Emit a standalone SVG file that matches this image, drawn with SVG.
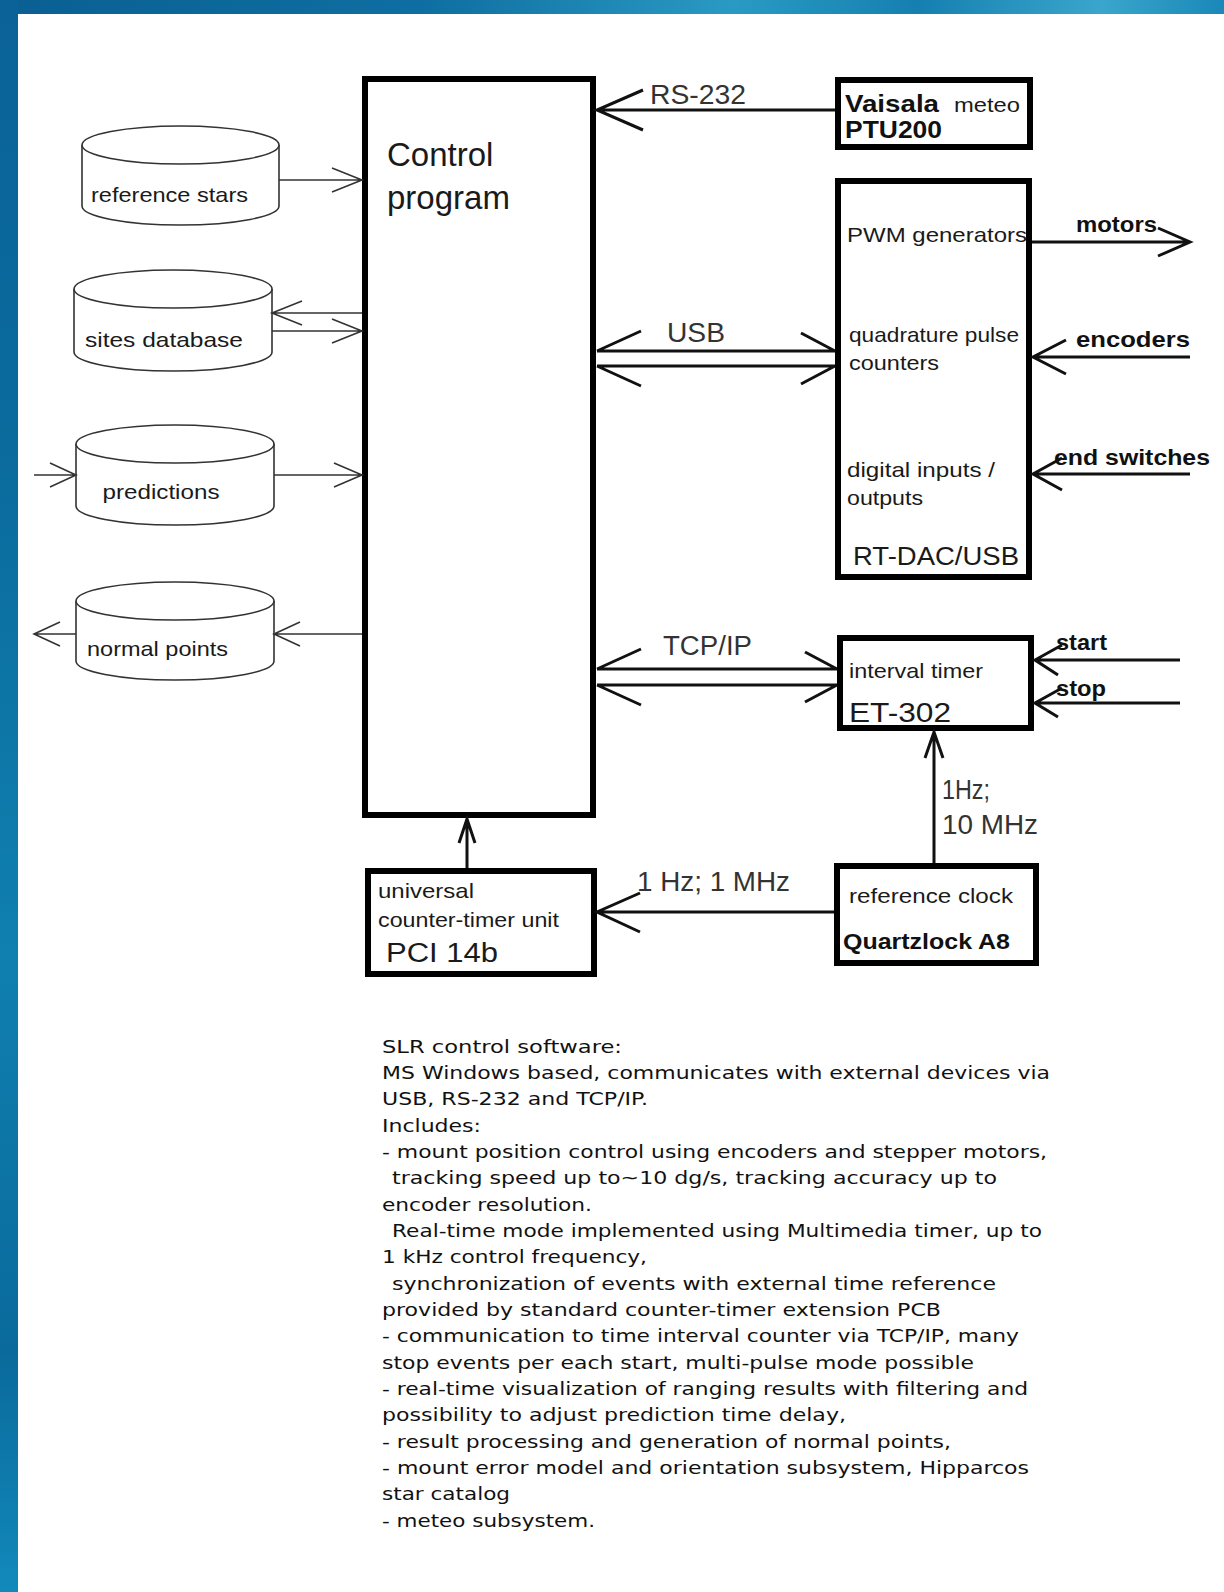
<svg xmlns="http://www.w3.org/2000/svg" width="1224" height="1592" viewBox="0 0 1224 1592">
<defs>
<linearGradient id="topg" x1="0" y1="0" x2="1" y2="0">
<stop offset="0" stop-color="#0a5f93"/>
<stop offset="0.35" stop-color="#0f6fa2"/>
<stop offset="0.6" stop-color="#2a9ac4"/>
<stop offset="0.75" stop-color="#1580b0"/>
<stop offset="0.9" stop-color="#3aa6cc"/>
<stop offset="1" stop-color="#1a88b8"/>
</linearGradient>
<linearGradient id="leftg" x1="0" y1="0" x2="0" y2="1">
<stop offset="0" stop-color="#0a6298"/>
<stop offset="0.3" stop-color="#0b6c9e"/>
<stop offset="0.6" stop-color="#0f80b0"/>
<stop offset="0.85" stop-color="#0a6a9c"/>
<stop offset="1" stop-color="#1289bb"/>
</linearGradient>
</defs>
<style>
.box{fill:#fff;stroke:#000;stroke-width:6}
.cyl{fill:#fff;stroke:#333;stroke-width:1.6}
.thin{fill:none;stroke:#333;stroke-width:1.6}
.thick{fill:none;stroke:#111;stroke-width:3}
.t{font-family:"Liberation Sans",Arial,sans-serif;fill:#1a1a1a}
.lbl{font-family:"Liberation Sans",Arial,sans-serif;fill:#333;font-size:27px}
.b{font-family:"Liberation Sans",Arial,sans-serif;font-weight:bold;fill:#111}
.d{font-family:"DejaVu Sans",sans-serif;font-size:18px;fill:#111}
</style>
<rect x="0" y="0" width="1224" height="1592" fill="#fff"/>
<rect x="0" y="0" width="1224" height="14" fill="url(#topg)"/>
<rect x="0" y="0" width="18" height="1592" fill="url(#leftg)"/>

<g id="control-program">
<rect class="box" x="365" y="79" width="228" height="736"/>
<text class="t" x="387" y="166" font-size="33">Control</text>
<text class="t" x="387" y="209" font-size="33">program</text>
</g>

<g id="reference-stars">
<path class="cyl" d="M82,145 L82,206 A98.5,19 0 0 0 279,206 L279,145"/>
<ellipse class="cyl" cx="180.5" cy="145" rx="98.5" ry="19"/>
<text class="t" x="91" y="202" font-size="21" textLength="157" lengthAdjust="spacingAndGlyphs">reference stars</text>
</g>

<g id="sites-database">
<path class="cyl" d="M74,289 L74,352 A99,19 0 0 0 272,352 L272,289"/>
<ellipse class="cyl" cx="173" cy="289" rx="99" ry="19"/>
<text class="t" x="85" y="347" font-size="21" textLength="158" lengthAdjust="spacingAndGlyphs">sites database</text>
</g>

<g id="predictions">
<path class="cyl" d="M76,444 L76,506 A99,19 0 0 0 274,506 L274,444"/>
<ellipse class="cyl" cx="175" cy="444" rx="99" ry="19"/>
<text class="t" x="102.5" y="499" font-size="21" textLength="117" lengthAdjust="spacingAndGlyphs">predictions</text>
</g>

<g id="normal-points">
<path class="cyl" d="M76,601 L76,661 A99,19 0 0 0 274,661 L274,601"/>
<ellipse class="cyl" cx="175" cy="601" rx="99" ry="19"/>
<text class="t" x="87" y="656" font-size="21" textLength="141" lengthAdjust="spacingAndGlyphs">normal points</text>
</g>

<g id="vaisala">
<rect class="box" x="838" y="80" width="192" height="67"/>
<text class="b" x="845" y="112" font-size="24" textLength="94" lengthAdjust="spacingAndGlyphs">Vaisala</text>
<text class="t" x="954" y="112" font-size="20" textLength="66" lengthAdjust="spacingAndGlyphs">meteo</text>
<text class="b" x="845" y="138" font-size="24" textLength="97" lengthAdjust="spacingAndGlyphs">PTU200</text>
</g>

<g id="rt-dac">
<rect class="box" x="838" y="181" width="191" height="396"/>
<text class="t" x="847" y="242" font-size="21" textLength="180" lengthAdjust="spacingAndGlyphs">PWM generators</text>
<text class="t" x="849" y="342" font-size="21" textLength="170" lengthAdjust="spacingAndGlyphs">quadrature pulse</text>
<text class="t" x="849" y="370" font-size="21" textLength="90" lengthAdjust="spacingAndGlyphs">counters</text>
<text class="t" x="847" y="477" font-size="21" textLength="148" lengthAdjust="spacingAndGlyphs">digital inputs /</text>
<text class="t" x="847" y="505" font-size="21" textLength="76" lengthAdjust="spacingAndGlyphs">outputs</text>
<text class="t" x="853" y="565" font-size="25" textLength="166" lengthAdjust="spacingAndGlyphs">RT-DAC/USB</text>
</g>

<g id="interval-timer">
<rect class="box" x="840" y="638" width="191" height="90"/>
<text class="t" x="849" y="678" font-size="21" textLength="134" lengthAdjust="spacingAndGlyphs">interval timer</text>
<text class="t" x="849" y="722" font-size="28" textLength="102" lengthAdjust="spacingAndGlyphs">ET-302</text>
</g>

<g id="reference-clock">
<rect class="box" x="837" y="866" width="199" height="97"/>
<text class="t" x="849" y="903" font-size="21" textLength="164" lengthAdjust="spacingAndGlyphs">reference clock</text>
<text class="b" x="843" y="949" font-size="22" textLength="167" lengthAdjust="spacingAndGlyphs">Quartzlock A8</text>
</g>

<g id="pci">
<rect class="box" x="368" y="871" width="226" height="103"/>
<text class="t" x="378" y="898" font-size="21" textLength="96" lengthAdjust="spacingAndGlyphs">universal</text>
<text class="t" x="378" y="927" font-size="21" textLength="181" lengthAdjust="spacingAndGlyphs">counter-timer unit</text>
<text class="t" x="386" y="962" font-size="27" textLength="112" lengthAdjust="spacingAndGlyphs">PCI 14b</text>
</g>

<g id="connectors">
<path class="thin" d="M279,180 H362 M332,168 L362,180 L332,192"/>
<path class="thin" d="M362,313 H272 M302,301 L272,313 L302,325"/>
<path class="thin" d="M272,331 H362 M332,319 L362,331 L332,343"/>
<path class="thin" d="M34,475 H76 M50,463 L76,475 L50,487"/>
<path class="thin" d="M274,475 H362 M334,463 L362,475 L334,487"/>
<path class="thin" d="M362,634 H274 M300,622 L274,634 L300,646"/>
<path class="thin" d="M76,634 H34 M60,622 L34,634 L60,646"/>
<path class="thick" d="M835,110 H597 M643,90 L597,110 L643,130"/>
<text class="lbl" x="650" y="104" textLength="96" lengthAdjust="spacingAndGlyphs">RS-232</text>
<path class="thick" d="M597,351 H835 M597,366 H835 M641,331 L597,351 M641,386 L597,366 M801,333 L835,351 M801,384 L835,366"/>
<text class="lbl" x="667" y="342" textLength="58" lengthAdjust="spacingAndGlyphs">USB</text>
<path class="thick" d="M1032,242 H1190 M1158,228 L1190,242 L1158,256"/>
<text class="b" x="1076" y="232" font-size="22" textLength="81" lengthAdjust="spacingAndGlyphs">motors</text>
<path class="thick" d="M1190,357 H1033 M1066,340 L1033,357 L1066,374"/>
<text class="b" x="1076" y="347" font-size="22" textLength="114" lengthAdjust="spacingAndGlyphs">encoders</text>
<path class="thick" d="M1190,474 H1033 M1062,458 L1033,474 L1062,490"/>
<text class="b" x="1054" y="465" font-size="22" textLength="156" lengthAdjust="spacingAndGlyphs">end switches</text>
<path class="thick" d="M597,669 H837 M597,685 H837 M641,649 L597,669 M641,705 L597,685 M805,652 L837,669 M805,702 L837,685"/>
<text class="lbl" x="663" y="655" textLength="89" lengthAdjust="spacingAndGlyphs">TCP/IP</text>
<path class="thick" d="M1180,660 H1035 M1062,645 L1035,660 L1058,675"/>
<text class="b" x="1056" y="650" font-size="22" textLength="51" lengthAdjust="spacingAndGlyphs">start</text>
<path class="thick" d="M1180,703 H1035 M1062,688 L1035,703 L1058,717"/>
<text class="b" x="1056" y="696" font-size="22" textLength="50" lengthAdjust="spacingAndGlyphs">stop</text>
<path class="thick" d="M934,863 V732 M925,758 L934,732 L943,758"/>
<text class="lbl" x="942" y="799" textLength="48" lengthAdjust="spacingAndGlyphs">1Hz;</text>
<text class="lbl" x="942" y="834" textLength="96" lengthAdjust="spacingAndGlyphs">10 MHz</text>
<path class="thick" d="M834,912 H597 M640,893 L597,912 L640,932"/>
<text class="lbl" x="637" y="891" textLength="153" lengthAdjust="spacingAndGlyphs">1 Hz; 1 MHz</text>
<path class="thick" d="M467,868 V819 M459,843 L467,819 L475,843"/>
</g>

<g id="description">
<text class="d" x="382" y="1053" textLength="240" lengthAdjust="spacingAndGlyphs">SLR control software:</text>
<text class="d" x="382" y="1079" textLength="668" lengthAdjust="spacingAndGlyphs">MS Windows based, communicates with external devices via</text>
<text class="d" x="382" y="1105" textLength="266" lengthAdjust="spacingAndGlyphs">USB, RS-232 and TCP/IP.</text>
<text class="d" x="382" y="1132" textLength="99" lengthAdjust="spacingAndGlyphs">Includes:</text>
<text class="d" x="382" y="1158" textLength="665" lengthAdjust="spacingAndGlyphs">- mount position control using encoders and stepper motors,</text>
<text class="d" x="392" y="1184" textLength="605" lengthAdjust="spacingAndGlyphs">tracking speed up to~10 dg/s, tracking accuracy up to</text>
<text class="d" x="382" y="1211" textLength="210" lengthAdjust="spacingAndGlyphs">encoder resolution.</text>
<text class="d" x="392" y="1237" textLength="650" lengthAdjust="spacingAndGlyphs">Real-time mode implemented using Multimedia timer, up to</text>
<text class="d" x="382" y="1263" textLength="265" lengthAdjust="spacingAndGlyphs">1 kHz control frequency,</text>
<text class="d" x="392" y="1290" textLength="604" lengthAdjust="spacingAndGlyphs">synchronization of events with external time reference</text>
<text class="d" x="382" y="1316" textLength="559" lengthAdjust="spacingAndGlyphs">provided by standard counter-timer extension PCB</text>
<text class="d" x="382" y="1342" textLength="637" lengthAdjust="spacingAndGlyphs">- communication to time interval counter via TCP/IP, many</text>
<text class="d" x="382" y="1369" textLength="592" lengthAdjust="spacingAndGlyphs">stop events per each start, multi-pulse mode possible</text>
<text class="d" x="382" y="1395" textLength="646" lengthAdjust="spacingAndGlyphs">- real-time visualization of ranging results with filtering and</text>
<text class="d" x="382" y="1421" textLength="464" lengthAdjust="spacingAndGlyphs">possibility to adjust prediction time delay,</text>
<text class="d" x="382" y="1448" textLength="569" lengthAdjust="spacingAndGlyphs">- result processing and generation of normal points,</text>
<text class="d" x="382" y="1474" textLength="647" lengthAdjust="spacingAndGlyphs">- mount error model and orientation subsystem, Hipparcos</text>
<text class="d" x="382" y="1500" textLength="128" lengthAdjust="spacingAndGlyphs">star catalog</text>
<text class="d" x="382" y="1527" textLength="213" lengthAdjust="spacingAndGlyphs">- meteo subsystem.</text>
</g>
</svg>
